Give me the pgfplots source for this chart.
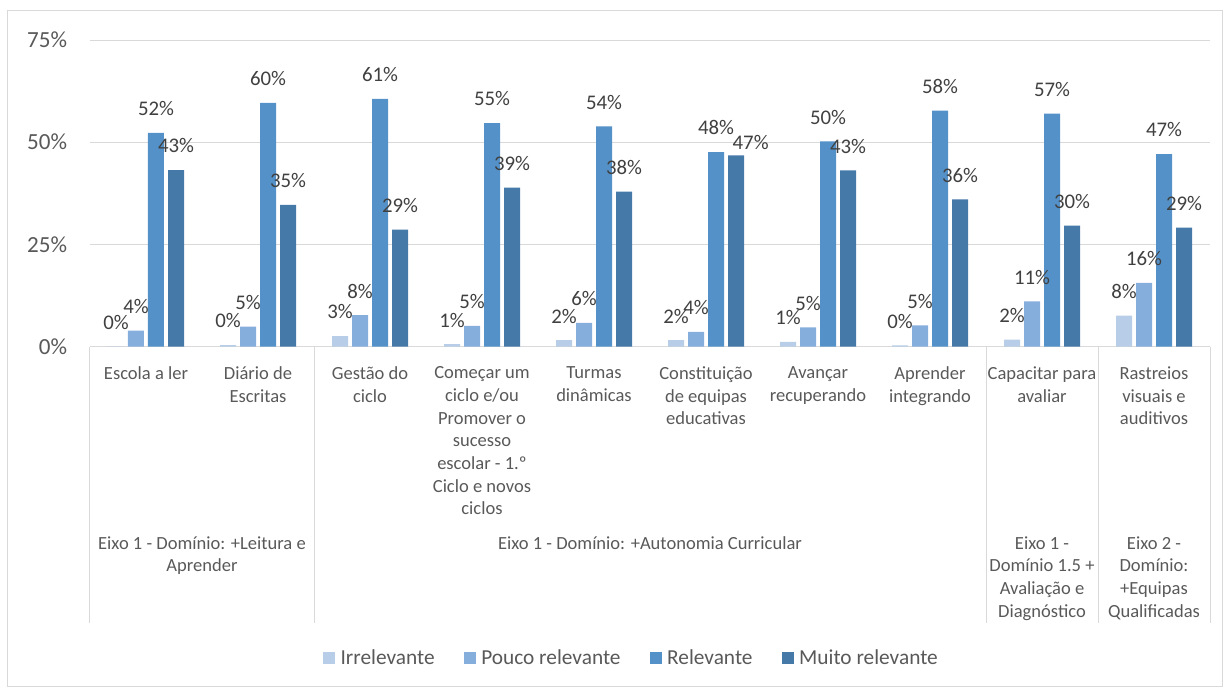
\documentclass[border=0pt]{standalone}
\usepackage{pgfplots}
\pgfplotsset{compat=1.18}
\usepackage{fontspec}
\setmainfont{Carlito}
\definecolor{cIrr}{HTML}{B7CDE8}
\definecolor{cPou}{HTML}{86AEDC}
\definecolor{cRel}{HTML}{5491C8}
\definecolor{cMui}{HTML}{457AA8}
\definecolor{cGrid}{HTML}{D9D9D9}
\definecolor{cText}{HTML}{595959}
\definecolor{cLab}{HTML}{404040}
\begin{document}
\begin{tikzpicture}
\useasboundingbox (-67.5pt,-256pt) rectangle (852.75pt,260pt);
\draw[color=cGrid, line width=0.75pt] (-61.5pt,-254.5pt) rectangle (849pt,251.8pt);
\begin{axis}[
  at={(0pt,0pt)}, anchor=south west,
  scale only axis, width=840pt, height=230pt,
  xmin=-0.5, xmax=9.5, ymin=0, ymax=75,
  ybar=3pt, bar width=12pt,
  clip=false,
  axis line style={draw=none},
  tick style={draw=none},
  ymajorgrids, grid style={color=cGrid, line width=0.75pt},
  /pgf/number format/assume math mode=true,
  ytick={0,25,50,75},
  yticklabel={\pgfmathprintnumber{\tick}\%},
  yticklabel style={anchor=east, inner sep=0pt, xshift=-17pt, text=cText, font=\fontsize{17.3}{20}\selectfont},
  xtick={0,...,9},
  xticklabels={{Escola a ler},{Diário de\\Escritas},{Gestão do\\ciclo},{Começar um\\ciclo e/ou\\Promover o\\sucesso\\escolar - 1.º\\Ciclo e novos\\ciclos},{Turmas\\dinâmicas},{Constituição\\de equipas\\educativas},{Avançar\\recuperando},{Aprender\\integrando},{Capacitar para\\avaliar},{Rastreios\\visuais e\\auditivos}},
  xticklabel style={anchor=north, align=center, inner sep=0pt, yshift=-10.6pt, text=cText, font=\fontsize{13.9}{17}\selectfont},
  nodes near coords={\pgfmathprintnumber[fixed,precision=0]{\pgfplotspointmeta}\%},
  every node near coord/.append style={font=\fontsize{15.6}{18}\selectfont, text=cLab, inner sep=0pt, yshift=12.5pt},
  legend image code/.code={\fill[#1] (0pt,-4.5pt) rectangle (9pt,4.5pt);},
  legend columns=4,
  legend style={at={(0.4826,-1.015)}, anchor=center, draw=none, fill=none,
    font=\fontsize{16}{19}\selectfont, text=cText,
    nodes={inner sep=0pt},
    /tikz/every odd column/.append style={column sep=4pt},
    /tikz/every even column/.append style={column sep=22pt}},
]
\addplot[fill=cIrr, draw=none] coordinates {(0,0.1) (1,0.4) (2,2.6) (3,0.6) (4,1.6) (5,1.6) (6,1.2) (7,0.3) (8,1.7) (9,7.6)};
\addplot[fill=cPou, draw=none] coordinates {(0,3.9) (1,4.9) (2,7.7) (3,5.1) (4,5.8) (5,3.6) (6,4.7) (7,5.2) (8,11.1) (9,15.6)};
\addplot[fill=cRel, draw=none] coordinates {(0,52.3) (1,59.6) (2,60.6) (3,54.7) (4,53.9) (5,47.6) (6,50.2) (7,57.7) (8,57.0) (9,47.1)};
\addplot[fill=cMui, draw=none, coordinate style/.condition={x==5}{xshift=11pt, yshift=-8.5pt}] coordinates {(0,43.2) (1,34.7) (2,28.6) (3,38.9) (4,37.9) (5,46.8) (6,43.1) (7,36.0) (8,29.6) (9,29.1)};
\legend{Irrelevante, Pouco relevante, Relevante, Muito relevante}
\foreach \xs in {-0.5,1.5,7.5,8.5,9.5}{
  \edef\tmp{\noexpand\draw[color=cGrid, line width=0.75pt] (axis cs:\xs,0) -- ++(0pt,-207pt);}
  \tmp
}
\begin{scope}[every node/.style={anchor=north, align=center, inner sep=0pt, text=cText, font=\fontsize{13.9}{17}\selectfont}]
\node at (axis cs:0.5,0) [yshift=-142pt] {Eixo 1 - Domínio: +Leitura e\\Aprender};
\node at (axis cs:4.5,0) [yshift=-142pt] {Eixo 1 - Domínio: +Autonomia Curricular};
\node at (axis cs:8,0) [yshift=-142pt] {Eixo 1 -\\Domínio 1.5 +\\Avaliação e\\Diagnóstico};
\node at (axis cs:9,0) [yshift=-142pt] {Eixo 2 -\\Domínio:\\+Equipas\\Qualificadas};
\end{scope}
\end{axis}
\end{tikzpicture}
\end{document}
